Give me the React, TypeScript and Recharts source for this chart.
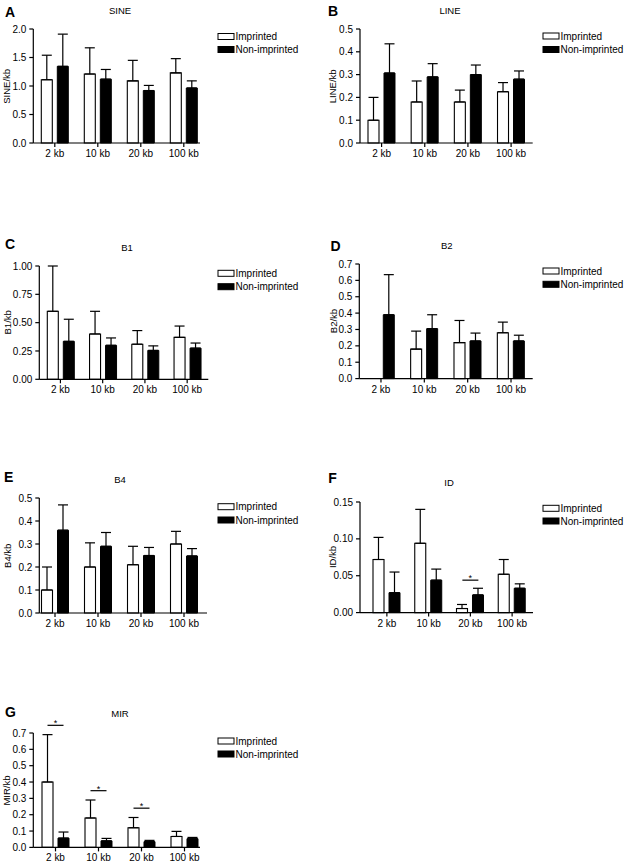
import React from 'react';
import { BarChart, Bar, XAxis, YAxis, ErrorBar, ReferenceDot } from 'recharts';

// ---------- data ----------
const CATEGORIES = ['2 kb', '10 kb', '20 kb', '100 kb'];
const SERIES_NAMES = ['Imprinted', 'Non-imprinted'];

const SINE_IMPRINTED = [1.11, 1.21, 1.09, 1.23];
const SINE_IMPRINTED_ERR = [0.43, 0.46, 0.36, 0.25];
const SINE_NONIMPRINTED = [1.345, 1.12, 0.92, 0.965];
const SINE_NONIMPRINTED_ERR = [0.565, 0.17, 0.09, 0.125];
const SINE_TICKS = [0, 0.5, 1.0, 1.5, 2.0];

const LINE_IMPRINTED = [0.10, 0.18, 0.18, 0.225];
const LINE_IMPRINTED_ERR = [0.10, 0.092, 0.052, 0.04];
const LINE_NONIMPRINTED = [0.307, 0.29, 0.30, 0.28];
const LINE_NONIMPRINTED_ERR = [0.128, 0.058, 0.042, 0.036];
const LINE_TICKS = [0, 0.1, 0.2, 0.3, 0.4, 0.5];

const B1_IMPRINTED = [0.60, 0.40, 0.31, 0.37];
const B1_IMPRINTED_ERR = [0.40, 0.20, 0.12, 0.10];
const B1_NONIMPRINTED = [0.335, 0.30, 0.255, 0.275];
const B1_NONIMPRINTED_ERR = [0.195, 0.065, 0.04, 0.045];
const B1_TICKS = [0, 0.25, 0.5, 0.75, 1.0];

const B2_IMPRINTED = [0, 0.18, 0.22, 0.28];
const B2_IMPRINTED_ERR = [0, 0.11, 0.135, 0.065];
const B2_NONIMPRINTED = [0.39, 0.305, 0.23, 0.23];
const B2_NONIMPRINTED_ERR = [0.245, 0.085, 0.048, 0.035];
const B2_TICKS = [0, 0.1, 0.2, 0.3, 0.4, 0.5, 0.6, 0.7];

const B4_IMPRINTED = [0.10, 0.20, 0.21, 0.30];
const B4_IMPRINTED_ERR = [0.10, 0.105, 0.08, 0.055];
const B4_NONIMPRINTED = [0.36, 0.29, 0.25, 0.248];
const B4_NONIMPRINTED_ERR = [0.11, 0.06, 0.035, 0.032];
const B4_TICKS = [0, 0.1, 0.2, 0.3, 0.4, 0.5];

const ID_IMPRINTED = [0.072, 0.094, 0.0055, 0.052];
const ID_IMPRINTED_ERR = [0.03, 0.046, 0.0055, 0.02];
const ID_NONIMPRINTED = [0.027, 0.044, 0.024, 0.033];
const ID_NONIMPRINTED_ERR = [0.028, 0.015, 0.009, 0.006];
const ID_TICKS = [0, 0.05, 0.10, 0.15];
const ID_SIG = [{ category: '20 kb', y: 0.044 }];

const MIR_IMPRINTED = [0.40, 0.18, 0.12, 0.067];
const MIR_IMPRINTED_ERR = [0.29, 0.11, 0.063, 0.031];
const MIR_NONIMPRINTED = [0.057, 0.04, 0.035, 0.053];
const MIR_NONIMPRINTED_ERR = [0.037, 0.015, 0.008, 0.008];
const MIR_TICKS = [0, 0.1, 0.2, 0.3, 0.4, 0.5, 0.6, 0.7];
const MIR_SIG = [
  { category: '2 kb', y: 0.747 },
  { category: '10 kb', y: 0.347 },
  { category: '20 kb', y: 0.24 },
];

// ---------- helpers ----------
function buildRows(imp: number[], impErr: number[], non: number[], nonErr: number[]) {
  return CATEGORIES.map((cat, i) => ({
    cat,
    imp: imp[i],
    non: non[i],
    impErr: [0, impErr[i]],
    nonErr: [0, nonErr[i]],
  }));
}

type Geo = {
  ox: number; axisX: number; axisEnd: number; rangeStart: number; rangeEnd: number;
  topY: number; zeroY: number; ylabelX: number;
  letterX: number; letterY: number; titleX: number; titleY: number;
  legendX: number; legendY1: number; legendY2: number;
};

type PanelDef = {
  geo: Geo; rows: any[]; ticks: number[]; decimals: number;
  letter: string; title: string; ylabel: string; sig?: { category: string; y: number }[];
};

const FONT = '"Liberation Sans", Arial, Helvetica, sans-serif';

const SigShape = (props: any) => {
  const { cx, cy } = props;
  if (cx == null || cy == null) return <g />;
  return (
    <g>
      <line x1={cx - 8} x2={cx + 8} y1={cy} y2={cy} stroke="#000" strokeWidth={1.2} />
      <text x={cx} y={cy + 1} textAnchor="middle" fontSize={9} fill="#000" fontFamily={FONT}>*</text>
    </g>
  );
};

function Panel({ def }: { def: PanelDef }) {
  const { geo, rows, ticks, decimals, sig } = def;
  const mt = 22, xh = 24, mb = 2, mr = 10;
  const yw = geo.axisX - geo.ox;
  const pw = geo.axisEnd - geo.axisX;
  const ph = geo.zeroY - geo.topY;
  const W = yw + pw + mr;
  const H = mt + ph + xh + mb;
  const axisStyle = { stroke: '#000', strokeWidth: 1.2 };
  return (
    <div style={{ position: 'absolute', left: geo.ox, top: geo.topY - mt }}>
      <BarChart
        width={W}
        height={H}
        data={rows}
        margin={{ top: mt, right: mr, bottom: mb, left: 0 }}
        barGap={5}
        barSize={11}
      >
        <XAxis
          dataKey="cat"
          height={xh}
          interval={0}
          padding={{ left: geo.rangeStart - geo.axisX, right: geo.axisEnd - geo.rangeEnd }}
          tickSize={4}
          tickMargin={3}
          axisLine={axisStyle}
          tickLine={axisStyle}
          tick={{ fill: '#000', fontSize: 10, fontFamily: FONT }}
        />
        <YAxis
          width={yw}
          domain={[0, ticks[ticks.length - 1]]}
          ticks={ticks}
          interval={0}
          tickFormatter={(v: number) => v.toFixed(decimals)}
          tickSize={4}
          tickMargin={3}
          axisLine={axisStyle}
          tickLine={axisStyle}
          tick={{ fill: '#000', fontSize: 10, fontFamily: FONT }}
        />
        <Bar dataKey="imp" name={SERIES_NAMES[0]} fill="#fff" stroke="#000" strokeWidth={1.1} isAnimationActive={false}>
          <ErrorBar dataKey="impErr" direction="y" width={5} stroke="#000" strokeWidth={1.2} isAnimationActive={false} />
        </Bar>
        <Bar dataKey="non" name={SERIES_NAMES[1]} fill="#000" stroke="#000" strokeWidth={1} isAnimationActive={false}>
          <ErrorBar dataKey="nonErr" direction="y" width={5} stroke="#000" strokeWidth={1.2} isAnimationActive={false} />
        </Bar>
        {(sig || []).map((s, i) => (
          <ReferenceDot key={i} x={s.category} y={s.y} r={0} ifOverflow="visible" shape={SigShape} />
        ))}
      </BarChart>
    </div>
  );
}

const PANELS: PanelDef[] = [
  {
    geo: { ox: 0, axisX: 33.3, axisEnd: 200, rangeStart: 33.3, rangeEnd: 205.3, topY: 29.3, zeroY: 143.3, ylabelX: 6.5,
      letterX: 5, letterY: 17, titleX: 120, titleY: 13.5, legendX: 218, legendY1: 36.5, legendY2: 49.5 },
    rows: buildRows(SINE_IMPRINTED, SINE_IMPRINTED_ERR, SINE_NONIMPRINTED, SINE_NONIMPRINTED_ERR),
    ticks: SINE_TICKS, decimals: 1, letter: 'A', title: 'SINE', ylabel: 'SINE/kb',
  },
  {
    geo: { ox: 310, axisX: 360, axisEnd: 532.7, rangeStart: 360, rangeEnd: 532.7, topY: 29.3, zeroY: 143.3, ylabelX: 333,
      letterX: 328, letterY: 15.5, titleX: 450, titleY: 13.5, legendX: 543, legendY1: 36, legendY2: 49.5 },
    rows: buildRows(LINE_IMPRINTED, LINE_IMPRINTED_ERR, LINE_NONIMPRINTED, LINE_NONIMPRINTED_ERR),
    ticks: LINE_TICKS, decimals: 1, letter: 'B', title: 'LINE', ylabel: 'LINE/kb',
  },
  {
    geo: { ox: 0, axisX: 39.3, axisEnd: 208.3, rangeStart: 39.3, rangeEnd: 208.3, topY: 265.7, zeroY: 379, ylabelX: 8,
      letterX: 5, letterY: 249, titleX: 127, titleY: 250.5, legendX: 218, legendY1: 273.3, legendY2: 286.7 },
    rows: buildRows(B1_IMPRINTED, B1_IMPRINTED_ERR, B1_NONIMPRINTED, B1_NONIMPRINTED_ERR),
    ticks: B1_TICKS, decimals: 2, letter: 'C', title: 'B1', ylabel: 'B1/kb',
  },
  {
    geo: { ox: 310, axisX: 359.3, axisEnd: 532.7, rangeStart: 359.3, rangeEnd: 532.7, topY: 263.7, zeroY: 378.3, ylabelX: 333,
      letterX: 330.5, letterY: 251, titleX: 446.7, titleY: 248.5, legendX: 543, legendY1: 271, legendY2: 284.3 },
    rows: buildRows(B2_IMPRINTED, B2_IMPRINTED_ERR, B2_NONIMPRINTED, B2_NONIMPRINTED_ERR),
    ticks: B2_TICKS, decimals: 1, letter: 'D', title: 'B2', ylabel: 'B2/kb',
  },
  {
    geo: { ox: 0, axisX: 39.3, axisEnd: 207, rangeStart: 33.5, rangeEnd: 205.5, topY: 498.3, zeroY: 613.3, ylabelX: 8,
      letterX: 4, letterY: 481.7, titleX: 120, titleY: 482.7, legendX: 218, legendY1: 506.7, legendY2: 520 },
    rows: buildRows(B4_IMPRINTED, B4_IMPRINTED_ERR, B4_NONIMPRINTED, B4_NONIMPRINTED_ERR),
    ticks: B4_TICKS, decimals: 1, letter: 'E', title: 'B4', ylabel: 'B4/kb',
  },
  {
    geo: { ox: 310, axisX: 360, axisEnd: 533, rangeStart: 366, rangeEnd: 533, topY: 501.7, zeroY: 612.3, ylabelX: 332,
      letterX: 328.3, letterY: 483.3, titleX: 449, titleY: 485.7, legendX: 543, legendY1: 508.3, legendY2: 521 },
    rows: buildRows(ID_IMPRINTED, ID_IMPRINTED_ERR, ID_NONIMPRINTED, ID_NONIMPRINTED_ERR),
    ticks: ID_TICKS, decimals: 2, letter: 'F', title: 'ID', ylabel: 'ID/kb', sig: ID_SIG,
  },
  {
    geo: { ox: 0, axisX: 33.3, axisEnd: 200, rangeStart: 34, rangeEnd: 206, topY: 733.3, zeroY: 847.7, ylabelX: 6.5,
      letterX: 5, letterY: 716.7, titleX: 120, titleY: 717.3, legendX: 218, legendY1: 741, legendY2: 754 },
    rows: buildRows(MIR_IMPRINTED, MIR_IMPRINTED_ERR, MIR_NONIMPRINTED, MIR_NONIMPRINTED_ERR),
    ticks: MIR_TICKS, decimals: 1, letter: 'G', title: 'MIR', ylabel: 'MIR/kb', sig: MIR_SIG,
  },
];

export default function App() {
  return (
    <div style={{ position: 'absolute', left: 0, top: 0, width: 624, height: 865, background: '#fff', fontFamily: FONT, overflow: 'hidden' }}>
      {PANELS.map((p, i) => (
        <Panel key={i} def={p} />
      ))}
      <svg width={624} height={865} style={{ position: 'absolute', left: 0, top: 0, pointerEvents: 'none' }} fontFamily={FONT}>
        {PANELS.map((p, i) => {
          const g = p.geo;
          const cy = (g.topY + g.zeroY) / 2;
          return (
            <g key={i}>
              <text x={g.letterX} y={g.letterY} fontSize={14} fontWeight="bold" fill="#000">{p.letter}</text>
              <text x={g.titleX} y={g.titleY} fontSize={9.5} textAnchor="middle" fill="#000">{p.title}</text>
              <text x={g.ylabelX} y={cy} fontSize={9.5} textAnchor="middle" dominantBaseline="central"
                transform={`rotate(-90 ${g.ylabelX} ${cy})`} fill="#000">{p.ylabel}</text>
              <rect x={g.legendX} y={g.legendY1 - 3} width={16} height={6} fill="#fff" stroke="#000" strokeWidth={1} />
              <text x={g.legendX + 17.5} y={g.legendY1} fontSize={10} dominantBaseline="central" fill="#000">{SERIES_NAMES[0]}</text>
              <rect x={g.legendX} y={g.legendY2 - 3} width={16} height={6} fill="#000" stroke="#000" strokeWidth={1} />
              <text x={g.legendX + 17.5} y={g.legendY2} fontSize={10} dominantBaseline="central" fill="#000">{SERIES_NAMES[1]}</text>
            </g>
          );
        })}
      </svg>
    </div>
  );
}
